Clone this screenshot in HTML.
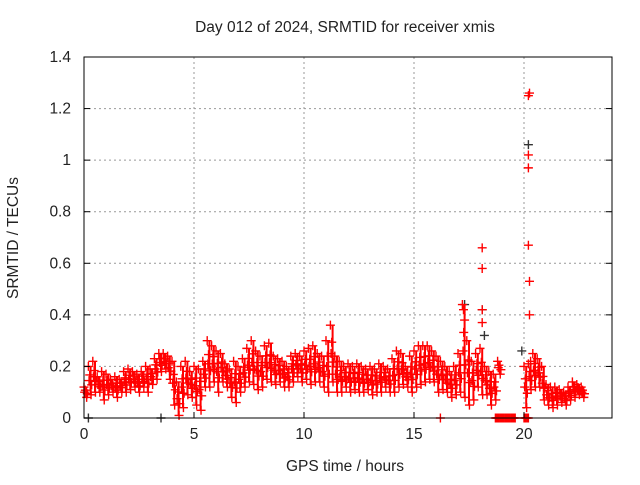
<!DOCTYPE html>
<html><head><meta charset="utf-8"><style>
body{margin:0;background:#fff;}
svg text{font-family:"Liberation Sans",sans-serif;font-size:15.5px;fill:#222;}
</style></head><body>
<svg id="chart" width="640" height="480">
<text x="345" y="32" text-anchor="middle">Day 012 of 2024, SRMTID for receiver xmis</text>
<text x="345" y="471" text-anchor="middle">GPS time / hours</text>
<text transform="translate(18,238) rotate(-90)" text-anchor="middle">SRMTID / TECUs</text>
<g id="grid"></g><g id="marks"></g><g id="axes"></g>
</svg>
<script>
const times=[0,0.2,0.4,0.6,0.8,1,1.2,1.4,1.6,1.8,2,2.2,2.4,2.6,2.8,3,3.2,3.4,3.6,3.8,4,4.2,4.4,4.6,4.8,5,5.2,5.4,5.6,5.8,6,6.2,6.4,6.6,6.8,7,7.2,7.4,7.6,7.8,8,8.2,8.4,8.6,8.8,9,9.2,9.4,9.6,9.8,10,10.2,10.4,10.6,10.8,11,11.2,11.4,11.6,11.8,12,12.2,12.4,12.6,12.8,13,13.2,13.4,13.6,13.8,14,14.2,14.4,14.6,14.8,15,15.2,15.4,15.6,15.8,16,16.2,16.4,16.6,16.8,17,17.2,17.4,17.6,17.8,18,18.2,18.4,18.6,18.8,20,20.2,20.4,20.6,20.8,21,21.2,21.4,21.6,21.8,22,22.2,22.4,22.6];
const hiVals=[0.12,0.2,0.22,0.16,0.18,0.17,0.15,0.16,0.15,0.18,0.19,0.18,0.17,0.18,0.2,0.19,0.23,0.25,0.25,0.24,0.22,0.14,0.2,0.22,0.18,0.2,0.19,0.22,0.3,0.28,0.26,0.25,0.21,0.19,0.22,0.2,0.23,0.27,0.3,0.26,0.24,0.28,0.29,0.24,0.23,0.22,0.2,0.24,0.25,0.24,0.26,0.27,0.28,0.25,0.24,0.3,0.36,0.24,0.22,0.2,0.21,0.2,0.21,0.2,0.19,0.2,0.19,0.21,0.2,0.19,0.23,0.26,0.25,0.2,0.24,0.26,0.28,0.28,0.28,0.26,0.24,0.22,0.2,0.18,0.2,0.25,0.44,0.3,0.22,0.25,0.27,0.2,0.18,0.17,0.22,0.2,0.21,0.25,0.23,0.2,0.13,0.12,0.12,0.11,0.1,0.12,0.14,0.13,0.12];
const loVals=[0.08,0.09,0.1,0.1,0.07,0.09,0.1,0.08,0.1,0.1,0.11,0.12,0.1,0.12,0.1,0.13,0.15,0.18,0.19,0.15,0.05,0.01,0.04,0.09,0.08,0.05,0.03,0.12,0.12,0.14,0.1,0.14,0.12,0.08,0.06,0.1,0.12,0.14,0.13,0.11,0.12,0.15,0.14,0.13,0.14,0.12,0.12,0.14,0.16,0.14,0.15,0.13,0.14,0.14,0.12,0.1,0.14,0.1,0.1,0.12,0.1,0.11,0.1,0.1,0.11,0.09,0.1,0.1,0.12,0.1,0.1,0.12,0.13,0.12,0.1,0.12,0.13,0.14,0.15,0.14,0.1,0.11,0.1,0.08,0.09,0.1,0.08,0.05,0.07,0.12,0.09,0.09,0.05,0.07,0.17,0.04,0.11,0.12,0.12,0.07,0.05,0.04,0.05,0.06,0.05,0.07,0.08,0.09,0.08];
const outlierTimes=[17.25,17.3,18.1,18.1,18.1,18.1,20.2,20.25,20.2,20.2,20.2,20.25,20.25,20.3];
const outlierVals=[0.42,0.38,0.66,0.58,0.42,0.37,1.25,1.26,1.02,0.97,0.67,0.53,0.4,0.22];
const blackTimes=[17.3,18.1,18.2,20.2,19.9,0.2,3.5];
const blackVals=[0.44,0.42,0.32,1.06,0.26,0,0];
const zeroTimes=[16.2,18.7,18.75,18.8,18.85,18.9,18.95,19.0,19.05,19.1,19.15,19.2,19.25,19.3,19.35,19.4,19.45,19.5,19.55,19.6,20.0,20.05,20.1,20.15,20.2];
const xTicks=[0,5,10,15,20];
const yTicks=[0,0.2,0.4,0.6,0.8,1,1.2,1.4];
const yTickLabels=["0","0.2","0.4","0.6","0.8","1","1.2","1.4"];

const X0=84,X1=612,Y0=418,Y1=57;
const xs=t=>X0+(t/24)*(X1-X0);
const ys=v=>Y0-(v/1.4)*(Y0-Y1);
const NS="http://www.w3.org/2000/svg";
function mk(tag,attrs,parent){const e=document.createElementNS(NS,tag);for(const k in attrs)e.setAttribute(k,attrs[k]);parent.appendChild(e);return e;}
const grid=document.getElementById('grid'),marks=document.getElementById('marks'),axes=document.getElementById('axes');
xTicks.forEach((t,i)=>{
  if(t>0){const l=mk('line',{x1:xs(t),x2:xs(t),y1:Y1,y2:Y0,stroke:'#999','stroke-dasharray':'2,3'},grid);
  
  }
  const tk=mk('line',{x1:xs(t),x2:xs(t),y1:Y0,y2:Y0-6,stroke:'#000'},axes);
  
  
  const tx=mk('text',{x:xs(t),y:Y0+21,'text-anchor':'middle'},axes);tx.textContent=t;
  
  
});
yTicks.forEach((v,i)=>{
  if(v>0&&v<1.4){const l=mk('line',{x1:X0,x2:X1,y1:ys(v),y2:ys(v),stroke:'#999','stroke-dasharray':'2,3'},grid);
  
  }
  const tk=mk('line',{x1:X0,x2:X0+6,y1:ys(v),y2:ys(v),stroke:'#000'},axes);
  
  
  const tk2=mk('line',{x1:X1,x2:X1-6,y1:ys(v),y2:ys(v),stroke:'#000'},axes);
  
  
  const tx=mk('text',{x:X0-13,y:ys(v)+5,'text-anchor':'end'},axes);tx.textContent=yTickLabels[i];
  
  
});
const frame=mk('rect',{x:X0,y:Y1,width:X1-X0,height:Y0-Y1,fill:'none',stroke:'#000'},axes);


function plus(t,v,col){const x=xs(t),y=ys(v);
  const p=mk('path',{d:`M${x-4.5} ${y}H${x+4.5}M${x} ${y-4.5}V${y+4.5}`,stroke:col,'stroke-width':1.4,fill:'none'},marks);
  
  }
blackTimes.forEach((t,i)=>plus(t,blackVals[i],'#333'));
times.forEach((t,i)=>{
  const h=hiVals[i],l=loVals[i];
  const r=mk('line',{x1:xs(t+0.1),x2:xs(t+0.1),y1:ys(h),y2:ys(l),stroke:'#f00','stroke-width':2},marks);
  
  
  plus(t,h,'#f00');plus(t+0.12,l,'#f00');
  plus(t+0.06,l+(h-l)*0.7,'#f00');
  plus(t+0.15,l+(h-l)*0.35,'#f00');
  plus(t+0.03,l+(h-l)*0.5,'#f00');
});
outlierTimes.forEach((t,i)=>plus(t,outlierVals[i],'#f00'));
zeroTimes.forEach(t=>plus(t,0,'#f00'));
</script>
</body></html>
